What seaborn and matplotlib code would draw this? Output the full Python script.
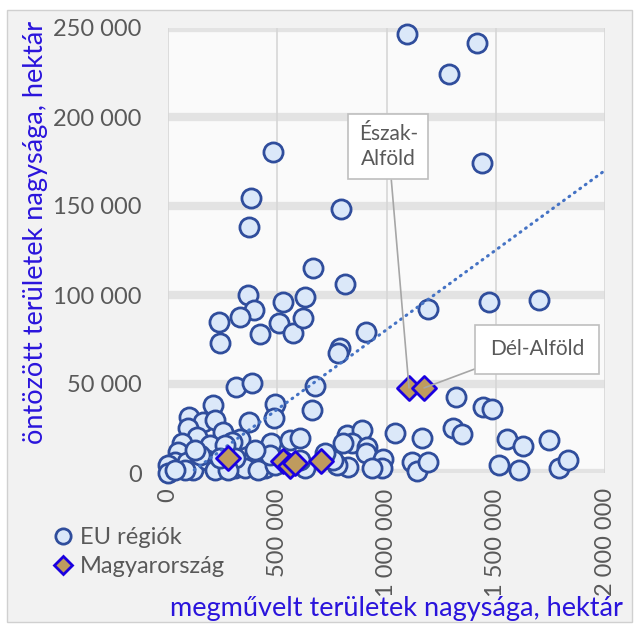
import numpy as np
import pandas as pd
import matplotlib
matplotlib.use("Agg")
import matplotlib.pyplot as plt
import matplotlib.ticker as mticker
from matplotlib.patches import Rectangle
from matplotlib.lines import Line2D
import seaborn as sns

# EU régiók : megművelt (x) et öntözött (y) területek, hektár
eu_x = [1094000, 1414000, 1286000, 1437000, 481000, 380000, 371000, 792000, 664000, 810000,
        1469000, 1698000, 1190000, 366000, 526000, 627000, 394000, 330000, 233000, 238000,
        421000, 508000, 572000, 618000, 906000, 787000, 778000, 311000, 384000, 673000,
        659000, 1318000, 1442000, 1483000, 1304000, 1346000, 1039000, 1163000, 1552000, 1625000,
        1744000, 1515000, 1607000, 1790000, 1831000, 1117000, 1140000, 1190000, 819000, 888000,
        842000, 911000, 906000, 984000, 979000, 934000, 824000, 773000, 755000, 719000,
        801000, 206000, 96000, 160000, 215000, 490000, 485000, 371000, 92000, 252000,
        133000, 192000, 64000, 46000, 32000, 0, 0, 87000, 114000, 179000,
        215000, 307000, 330000, 293000, 471000, 558000, 604000, 522000, 375000, 352000,
        444000, 307000, 261000, 146000, 78000, 32000, 275000, 412000, 490000, 627000,
        604000, 467000, 124000, 238000, 398000]
eu_y = [246600, 241600, 224200, 174200, 180300, 154500, 138200, 148300, 115200, 106200,
        96100, 97200, 92100, 100000, 96100, 98900, 91600, 87600, 84800, 73000,
        78100, 84300, 78700, 87100, 79200, 70200, 67400, 48300, 50600, 48900,
        35400, 42700, 37100, 36000, 25300, 21900, 22500, 19700, 19100, 15200,
        18500, 4500, 1700, 2800, 7300, 6200, 1100, 6200, 21300, 24200,
        16900, 14600, 11200, 7900, 2800, 2800, 3400, 4500, 7300, 11200,
        16900, 38200, 31500, 28700, 29800, 38800, 30900, 28700, 25300, 23000,
        20200, 15700, 16900, 11800, 6200, 4500, 0, 6200, 1700, 7300,
        1700, 2800, 19100, 17400, 16900, 18500, 19700, 7300, 6200, 2800,
        2800, 8400, 15700, 10100, 1700, 1700, 1700, 1700, 4500, 2800,
        7300, 10100, 12900, 8400, 12900]

# Magyarország régiói
hu_x = [275000, 526000, 558000, 581000, 700000, 1103000, 1172000]
hu_y = [8400, 6700, 3900, 5600, 6700, 47800, 47800]

# trendvonal
trend_x = [120000, 2000000]
trend_y = [1700, 170000]

x_ticks = [0, 500000, 1000000, 1500000, 2000000]
y_ticks = [0, 50000, 100000, 150000, 200000, 250000]

sns.set_theme(style="white")
plt.rcParams["font.family"] = ["Lato", "DejaVu Sans"]

gris = "#595959"
bleu = "#2a14dc"

fig = plt.figure(figsize=(6.35, 6.32), dpi=100, facecolor="white")
# cadre gris du graphique
fig.patches.append(Rectangle((7 / 635, 1 - 622 / 632), 625 / 635, 612 / 632,
                             transform=fig.transFigure, facecolor="#f2f2f2",
                             edgecolor="#d0d0d0", linewidth=1, zorder=-10))
ax = fig.add_axes([168 / 635, 1 - 473 / 632, 437 / 635, 445 / 632])
ax.set_zorder(1)
ax.set_facecolor("#fafafa")

# grilles
for yt in y_ticks:
    ax.axhline(yt, color="#e3e3e3", linewidth=6, zorder=0)
for xt in x_ticks:
    ax.axvline(xt, color="#d6d6d6", linewidth=1.2, zorder=0.5)

df_eu = pd.DataFrame({"x": eu_x, "y": eu_y})
df_hu = pd.DataFrame({"x": hu_x, "y": hu_y})

sns.scatterplot(data=df_eu, x="x", y="y", ax=ax, marker="o", s=190,
                color="#dbe8f9", edgecolor="#2f4d9c", linewidth=2.0, zorder=3,
                clip_on=False, legend=False)
sns.lineplot(x=trend_x, y=trend_y, ax=ax, color="#4472c4", linewidth=2.2,
             linestyle=(0, (0.3, 1.9)), dash_capstyle="round", zorder=4)
sns.scatterplot(data=df_hu, x="x", y="y", ax=ax, marker="D", s=150,
                color="#bf9b5e", edgecolor="#1a00e0", linewidth=2.0, zorder=5,
                clip_on=False, legend=False)

ax.set_xlim(0, 2000000)
ax.set_ylim(0, 250000)
ax.set_xticks(x_ticks)
ax.set_yticks(y_ticks)
fmt = mticker.FuncFormatter(lambda v, p: f"{int(v):,}".replace(",", " "))
ax.xaxis.set_major_formatter(fmt)
ax.yaxis.set_major_formatter(fmt)
ax.tick_params(axis="x", labelrotation=90, labelsize=17, labelcolor=gris, pad=11, length=0)
ax.tick_params(axis="y", labelsize=17, labelcolor=gris, pad=19, length=0)
for s in ax.spines.values():
    s.set_visible(False)

ax.set_xlabel("megművelt területek nagysága, hektár", fontsize=19.5, color=bleu)
ax.set_ylabel("öntözött területek nagysága, hektár", fontsize=19.5, color=bleu)
ax.xaxis.set_label_coords(0.522, -0.276)
ax.yaxis.set_label_coords(-0.275, 0.54)

# étiquettes des régions
ax.annotate("Észak-\nAlföld", xy=(hu_x[5], hu_y[5]), xytext=(1009000, 183400),
            ha="center", va="center", fontsize=15, color=gris, linespacing=1.3,
            bbox=dict(boxstyle="square,pad=0.5", facecolor="white",
                      edgecolor="#bfbfbf", linewidth=1.2), zorder=6,
            arrowprops=dict(arrowstyle="-", color="#a6a6a6", linewidth=1.2,
                            shrinkA=0, shrinkB=0))
ax.annotate("Dél-Alföld", xy=(hu_x[6], hu_y[6]), xytext=(1689000, 69400),
            ha="center", va="center", fontsize=15, color=gris,
            bbox=dict(boxstyle="square,pad=0.7", facecolor="white",
                      edgecolor="#bfbfbf", linewidth=1.2), zorder=6,
            arrowprops=dict(arrowstyle="-", color="#a6a6a6", linewidth=1.2,
                            shrinkA=0, shrinkB=0,
                            connectionstyle="arc,angleA=180,armA=10,angleB=0,armB=0,rad=0"))

# légende
handles = [Line2D([], [], marker="o", linestyle="", markersize=11,
                  markerfacecolor="#dbe8f9", markeredgecolor="#2f4d9c", markeredgewidth=2),
           Line2D([], [], marker="D", linestyle="", markersize=9,
                  markerfacecolor="#bf9b5e", markeredgecolor="#1a00e0", markeredgewidth=2)]
leg = fig.legend(handles, ["EU régiók", "Magyarország"], loc="upper left",
                 bbox_to_anchor=(54 / 635, 1 - 527 / 632), frameon=False,
                 fontsize=17, handletextpad=0.28, handlelength=0.8, labelspacing=0.35,
                 borderpad=0, borderaxespad=0, labelcolor=gris)

fig.savefig("out.png", dpi=100, facecolor=fig.get_facecolor())
